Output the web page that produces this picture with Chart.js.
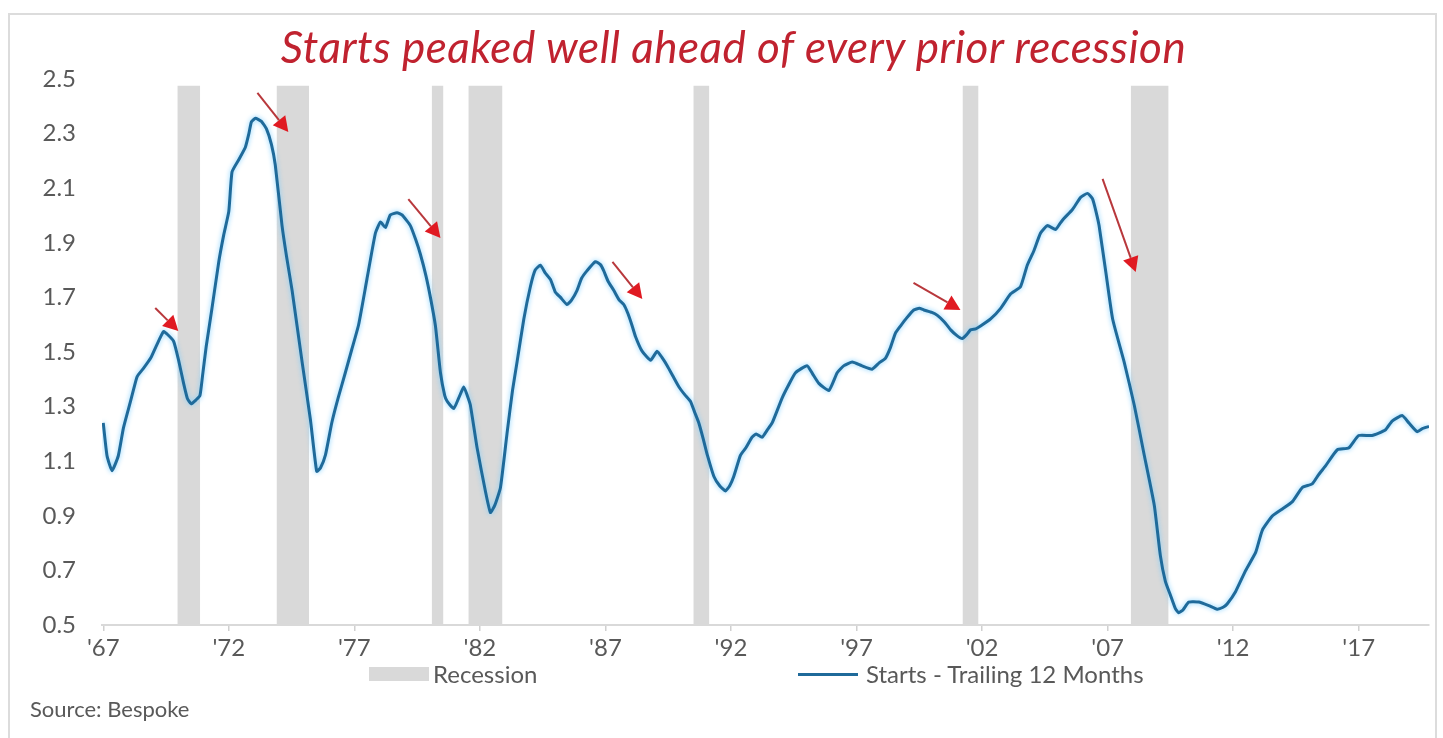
<!DOCTYPE html>
<html>
<head>
<meta charset="utf-8">
<script src="https://cdn.jsdelivr.net/npm/chart.js@4.4.1/dist/chart.umd.min.js"></script>
<style>
  html,body{margin:0;padding:0;background:#fff;}
  #wrap{position:relative;width:1443px;height:738px;overflow:hidden;background:#fff;}
  #frame{position:absolute;left:8px;top:13px;width:1429px;height:760px;border:2px solid #dcdcdc;box-sizing:border-box;}
  canvas{position:absolute;left:0;top:0;}
  #title{position:absolute;left:12px;width:1443px;top:20px;text-align:center;font-family:Lato,"Open Sans",sans-serif;font-style:italic;font-size:44px;letter-spacing:0.5px;color:#c0222f;white-space:nowrap;}
  .leg{position:absolute;font-family:Lato,"Open Sans",sans-serif;font-size:24px;color:#595959;white-space:nowrap;}
  .sw{position:absolute;}
  #source{position:absolute;left:30px;font-family:Lato,"Open Sans",sans-serif;font-size:22px;color:#595959;white-space:nowrap;}
</style>
</head>
<body>
<div id="wrap">
  <div id="frame"></div>
  <canvas id="c" width="1443" height="738"></canvas>
  <div id="title">Starts peaked well ahead of every prior recession</div>
  <div class="sw" style="left:369px;top:667px;width:60px;height:14px;background:#d9d9d9;"></div>
  <div class="leg" style="left:433px;top:659px;">Recession</div>
  <div class="sw" style="left:798px;top:673px;width:60px;height:3px;background:#1f6a9a;"></div>
  <div class="leg" style="left:866px;top:659px;">Starts - Trailing 12 Months</div>
  <div id="source" style="top:695px;">Source: Bespoke</div>
</div>
<script>
// ---- data ----
const years = [1967.0,1967.15,1967.35,1967.6,1967.8,1968.0,1968.2,1968.35,1968.6,1968.9,1969.1,1969.4,1969.55,1969.8,1970.0,1970.2,1970.35,1970.5,1970.7,1970.85,1970.95,1971.1,1971.33,1971.6,1971.8,1972.0,1972.13,1972.4,1972.66,1972.8,1972.9,1973.06,1973.3,1973.5,1973.7,1973.85,1974.12,1974.3,1974.52,1974.92,1975.25,1975.5,1975.65,1975.85,1976.1,1976.35,1976.64,1976.9,1977.17,1977.5,1977.84,1978.04,1978.24,1978.43,1978.7,1978.9,1979.23,1979.45,1979.63,1979.85,1980.03,1980.23,1980.43,1980.6,1980.7,1980.96,1981.15,1981.36,1981.5,1981.62,1981.89,1982.22,1982.42,1982.6,1982.82,1983.08,1983.3,1983.48,1983.75,1984.01,1984.2,1984.41,1984.6,1984.81,1985.0,1985.21,1985.47,1985.65,1985.87,1986.05,1986.27,1986.6,1986.8,1986.93,1987.1,1987.33,1987.55,1987.73,1987.9,1988.05,1988.2,1988.46,1988.8,1989.06,1989.25,1989.46,1989.7,1989.93,1990.15,1990.39,1990.55,1990.72,1990.9,1991.06,1991.32,1991.55,1991.78,1991.95,1992.11,1992.38,1992.6,1992.84,1993.0,1993.24,1993.45,1993.64,1994.04,1994.3,1994.57,1995.03,1995.25,1995.5,1995.9,1996.23,1996.5,1996.83,1997.2,1997.62,1997.9,1998.15,1998.35,1998.55,1998.75,1999.0,1999.28,1999.5,1999.68,2000.0,2000.22,2000.5,2000.75,2001.0,2001.21,2001.4,2001.54,2001.75,2001.94,2002.34,2002.74,2003.14,2003.53,2003.8,2004.06,2004.33,2004.6,2004.93,2005.1,2005.26,2005.6,2005.93,2006.2,2006.4,2006.55,2006.66,2006.93,2007.2,2007.66,2008.06,2008.46,2008.86,2009.1,2009.3,2009.5,2009.7,2009.83,2010.0,2010.23,2010.63,2011.03,2011.36,2011.6,2011.76,2012.1,2012.5,2012.9,2013.16,2013.56,2013.96,2014.36,2014.76,2015.15,2015.4,2015.68,2016.15,2016.6,2017.0,2017.53,2018.06,2018.33,2018.73,2019.0,2019.33,2019.55,2019.8];
const starts = [1.24,1.12,1.065,1.12,1.22,1.29,1.36,1.41,1.44,1.48,1.52,1.575,1.565,1.54,1.47,1.385,1.33,1.31,1.325,1.34,1.41,1.52,1.66,1.83,1.93,2.015,2.16,2.205,2.25,2.30,2.343,2.356,2.345,2.317,2.26,2.186,1.963,1.85,1.726,1.463,1.253,1.063,1.075,1.123,1.24,1.33,1.424,1.51,1.60,1.766,1.936,1.976,1.956,2.002,2.01,2.002,1.963,1.91,1.858,1.78,1.70,1.595,1.424,1.34,1.319,1.293,1.33,1.372,1.34,1.306,1.148,0.99,0.912,0.94,1.004,1.201,1.36,1.463,1.621,1.739,1.80,1.818,1.79,1.766,1.72,1.70,1.674,1.69,1.726,1.77,1.798,1.831,1.82,1.798,1.76,1.726,1.69,1.674,1.64,1.60,1.556,1.503,1.47,1.503,1.48,1.45,1.41,1.372,1.345,1.319,1.28,1.24,1.18,1.122,1.044,1.01,0.991,1.01,1.044,1.122,1.15,1.188,1.20,1.188,1.215,1.24,1.332,1.38,1.424,1.45,1.42,1.385,1.359,1.424,1.45,1.463,1.45,1.437,1.46,1.477,1.516,1.569,1.595,1.625,1.654,1.66,1.654,1.645,1.634,1.61,1.581,1.56,1.549,1.565,1.581,1.585,1.595,1.621,1.66,1.713,1.739,1.818,1.87,1.936,1.963,1.949,1.97,1.989,2.022,2.067,2.081,2.061,2.01,1.963,1.792,1.621,1.463,1.306,1.122,0.938,0.755,0.66,0.61,0.56,0.545,0.555,0.584,0.584,0.571,0.558,0.565,0.577,0.623,0.70,0.767,0.847,0.899,0.925,0.952,1.004,1.017,1.05,1.083,1.142,1.148,1.194,1.194,1.214,1.247,1.267,1.24,1.208,1.22,1.227];

const recessionStart = [1969.95,1973.9,1980.08,1981.54,1990.5,2001.22,2007.92];
const recessionEnd   = [1970.86,1975.2,1980.55,1982.9,1991.14,2001.86,2009.43];
const recessionTop = 2.475;

const xTickYears = [1967,1972,1977,1982,1987,1992,1997,2002,2007,2012,2017];
const yTickValues = [0.5,0.7,0.9,1.1,1.3,1.5,1.7,1.9,2.1,2.3,2.5];

// annotation arrows (data units: year, value)
const arrowTailYear = [1969.07,1973.14,1979.15,1987.28,1999.27,2006.8];
const arrowTailVal  = [1.661,2.449,2.06,1.83,1.753,2.134];
const arrowTipYear  = [1969.99,1974.37,1980.43,1988.47,2001.14,2008.12];
const arrowTipVal   = [1.577,2.306,1.918,1.694,1.654,1.793];

// ---- build datasets ----
const linePts = years.map((y,i)=>({x:y,y:starts[i]}));
const recPts = [];
recessionStart.forEach((s,i)=>{
  recPts.push({x:s,y:recessionTop});
  recPts.push({x:recessionEnd[i],y:recessionTop});
  recPts.push({x:recessionEnd[i]+0.001,y:null});
});

const glow = {
  id:'glow',
  beforeDatasetDraw(chart,args){
    if(args.index===1){
      const ctx=chart.ctx; ctx.save();
      ctx.shadowColor='rgba(120,205,255,0.95)'; ctx.shadowBlur=5;
    }
  },
  afterDatasetDraw(chart,args){
    if(args.index===1){ chart.ctx.restore(); }
  }
};

const arrows = {
  id:'arrows',
  afterDatasetsDraw(chart){
    const ctx=chart.ctx, xs=chart.scales.x, ys=chart.scales.y;
    ctx.save();
    arrowTailYear.forEach((ty,i)=>{
      const x0=xs.getPixelForValue(ty), y0=ys.getPixelForValue(arrowTailVal[i]);
      const x1=xs.getPixelForValue(arrowTipYear[i]), y1=ys.getPixelForValue(arrowTipVal[i]);
      const ang=Math.atan2(y1-y0,x1-x0);
      const hl=15, hw=8;
      const bx=x1-hl*Math.cos(ang), by=y1-hl*Math.sin(ang);
      ctx.strokeStyle='#b8383c'; ctx.lineWidth=2;
      ctx.beginPath(); ctx.moveTo(x0,y0); ctx.lineTo(bx,by); ctx.stroke();
      ctx.fillStyle='#e01a22';
      ctx.beginPath();
      ctx.moveTo(x1,y1);
      ctx.lineTo(bx+hw*Math.sin(ang), by-hw*Math.cos(ang));
      ctx.lineTo(bx-hw*Math.sin(ang), by+hw*Math.cos(ang));
      ctx.closePath(); ctx.fill();
    });
    ctx.restore();
  }
};

const FONT = 'Lato, "Open Sans", sans-serif';

new Chart(document.getElementById('c'),{
  type:'line',
  data:{
    datasets:[
      {label:'Recession',data:recPts,borderWidth:0,borderColor:'rgba(0,0,0,0)',backgroundColor:'#d9d9d9',
       fill:'start',pointRadius:0,spanGaps:false,tension:0,order:2},
      {label:'Starts - Trailing 12 Months',data:linePts,borderColor:'#1f6a9a',borderWidth:3,
       pointRadius:0,fill:false,tension:0.15,order:1}
    ]
  },
  options:{
    responsive:false,animation:false,
    layout:{padding:{left:0,right:14,top:79,bottom:0}},
    plugins:{legend:{display:false},tooltip:{enabled:false},title:{display:false}},
    scales:{
      x:{type:'linear',min:1966.95,max:2019.8,
         afterFit(s){s.height=113;},
         afterBuildTicks(s){s.ticks=xTickYears.map(v=>({value:v}));},
         grid:{display:true,drawOnChartArea:false,drawTicks:true,tickLength:6,color:'#d0d0d0',lineWidth:1.5},
         border:{display:true,color:'#d9d9d9',width:2},
         ticks:{padding:3,color:'#595959',font:{family:FONT,size:24},maxRotation:0,autoSkip:false,
                callback:(v)=>"'"+String(v).slice(2)}
      },
      y:{type:'linear',min:0.5,max:2.5,
         afterFit(s){s.width=102;},
         afterBuildTicks(s){s.ticks=yTickValues.map(v=>({value:v}));},
         grid:{display:false,drawTicks:false},
         border:{display:false},
         ticks:{padding:26,color:'#595959',font:{family:FONT,size:24},callback:(v)=>v.toFixed(1)}
      }
    }
  },
  plugins:[glow,arrows]
});
</script>
</body>
</html>
